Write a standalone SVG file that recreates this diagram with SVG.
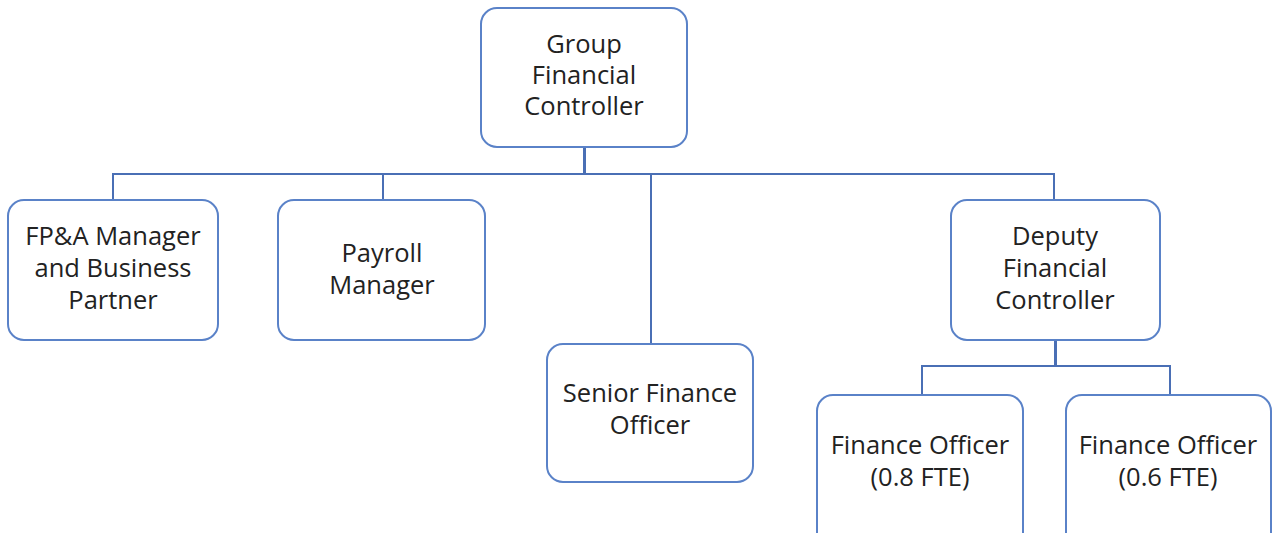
<svg xmlns="http://www.w3.org/2000/svg" width="1272" height="533" viewBox="0 0 1272 533">
<style>
.box{fill:#fff;stroke:#5a82c8;stroke-width:2}
.ln{fill:none;stroke:#4a6fb5;stroke-width:2}
.thick{stroke-width:3}
text{font-family:"Open Sans","Noto Sans",sans-serif;font-size:25.5px;fill:#222;text-anchor:middle}
</style>
<rect width="1272" height="533" fill="#fff"/>
<g id="connectors">
<path class="ln thick" d="M584.5 147V174"/>
<path class="ln" d="M113 200V174H1054V200"/>
<path class="ln" d="M383 174V200"/>
<path class="ln" d="M651 174V344"/>
<path class="ln thick" d="M1055.5 340V366"/>
<path class="ln" d="M922 395V366H1170V395"/>
</g>
<g id="gfc"><rect class="box" x="481" y="8" width="206" height="139" rx="16"/>
<text x="584" y="53">Group</text><text x="584" y="84">Financial</text><text x="584" y="115">Controller</text></g>
<g id="fpa"><rect class="box" x="8" y="200" width="210" height="140" rx="16"/>
<text x="113" y="245">FP&amp;A Manager</text><text x="113" y="277">and Business</text><text x="113" y="309">Partner</text></g>
<g id="payroll"><rect class="box" x="278" y="200" width="207" height="140" rx="16"/>
<text x="382" y="262">Payroll</text><text x="382" y="294">Manager</text></g>
<g id="senior"><rect class="box" x="547" y="344" width="206" height="138" rx="16"/>
<text x="650" y="402">Senior Finance</text><text x="650" y="434">Officer</text></g>
<g id="deputy"><rect class="box" x="951" y="200" width="209" height="140" rx="16"/>
<text x="1055" y="245">Deputy</text><text x="1055" y="277">Financial</text><text x="1055" y="309">Controller</text></g>
<g id="fo1"><rect class="box" x="817" y="395" width="206" height="160" rx="16"/>
<text x="920" y="454">Finance Officer</text><text x="920" y="486">(0.8 FTE)</text></g>
<g id="fo2"><rect class="box" x="1066" y="395" width="205" height="160" rx="16"/>
<text x="1168" y="454">Finance Officer</text><text x="1168" y="486">(0.6 FTE)</text></g>
</svg>
